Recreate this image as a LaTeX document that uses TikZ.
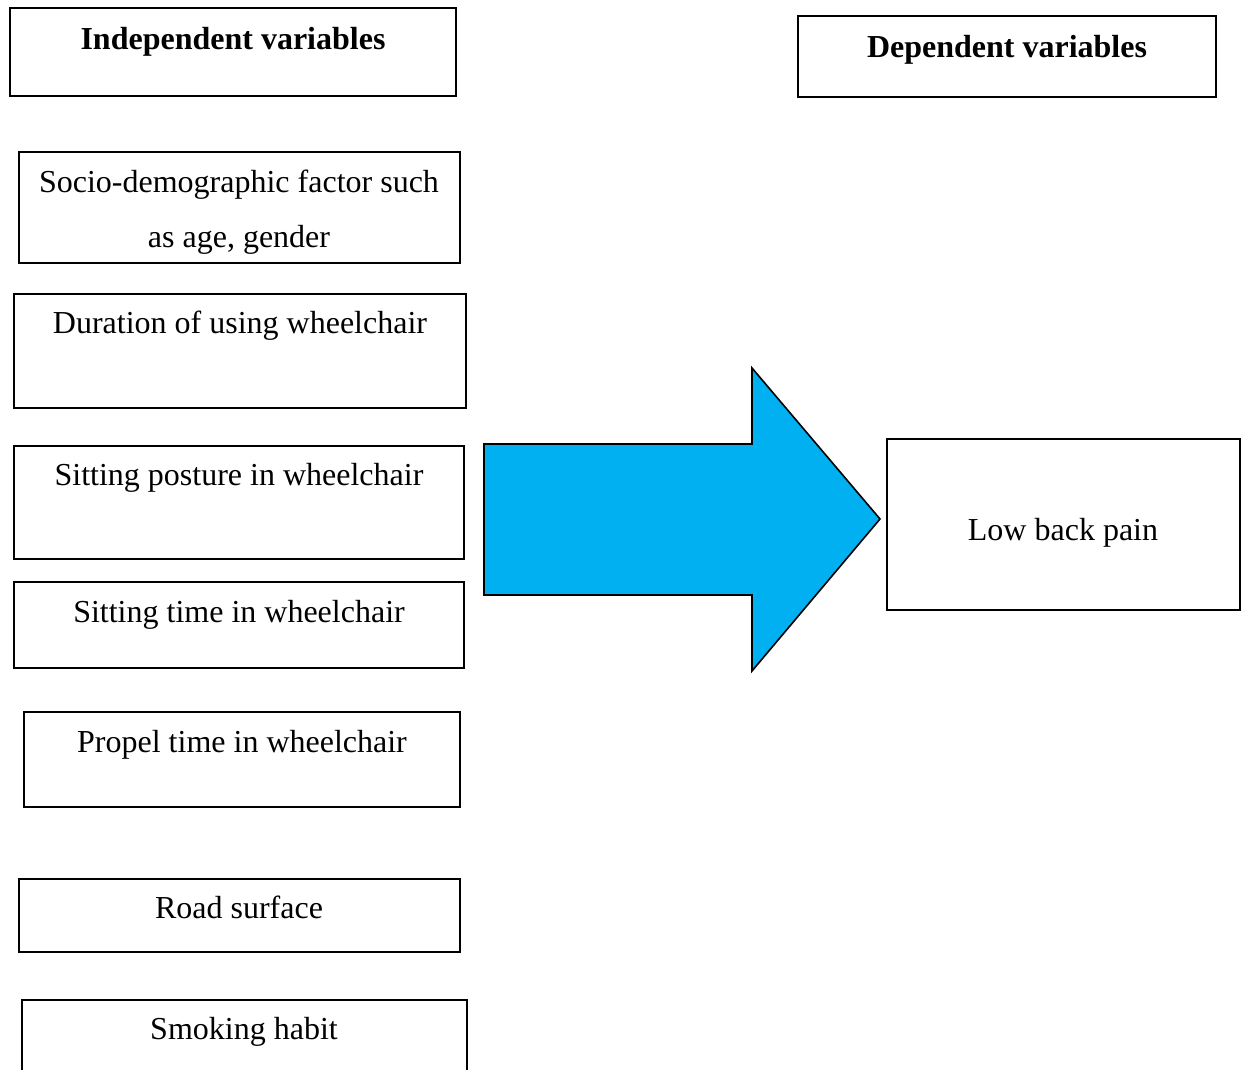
\documentclass[tikz,border=0pt]{standalone}
\usepackage{fontspec}
\setmainfont{Liberation Serif}
\begin{document}
\begin{tikzpicture}[x=1pt,y=-1pt,
  box/.style={draw=black,line width=1.6pt,fill=none},
  lbl/.style={anchor=base,inner sep=0pt,font=\fontsize{32}{38}\selectfont},
  blbl/.style={lbl,font=\fontsize{32}{38}\selectfont\bfseries}]
\useasboundingbox (0,0) rectangle (1247,1070);
% boxes
\draw[box] (10,8) rectangle (456,96);
\draw[box] (798,16) rectangle (1216,97);
\draw[box] (19,152) rectangle (460,263);
\draw[box] (14,294) rectangle (466,408);
\draw[box] (14,446) rectangle (464,559);
\draw[box] (14,582) rectangle (464,668);
\draw[box] (24,712) rectangle (460,807);
\draw[box] (19,879) rectangle (460,952);
\draw[box] (22,1000) rectangle (467,1100);
\draw[box] (887,439) rectangle (1240,610);
% block arrow
\draw[line width=1.6pt,fill={rgb,255:red,0;green,176;blue,240},line join=miter]
  (484,444) -- (752,444) -- (752,368) -- (880,519) -- (752,671) -- (752,595) -- (484,595) -- cycle;
% labels
\node[blbl] (iv) at (233,50) {Independent variables};
\node[blbl] (dv) at (1007,58) {Dependent variables};
\node[lbl] (s1) at (239,192) {Socio-demographic factor such};
\node[lbl] (s2) at (239,247) {as age, gender};
\node[lbl] (du) at (240,333) {Duration of using wheelchair};
\node[lbl] (sp) at (239,485) {Sitting posture in wheelchair};
\node[lbl] (st) at (239,622) {Sitting time in wheelchair};
\node[lbl] (pt) at (242,752) {Propel time in wheelchair};
\node[lbl] (rs) at (239,918) {Road surface};
\node[lbl] (sm) at (244,1039) {Smoking habit};
\node[lbl] (lb) at (1063,540) {Low back pain};
\end{tikzpicture}
\end{document}
